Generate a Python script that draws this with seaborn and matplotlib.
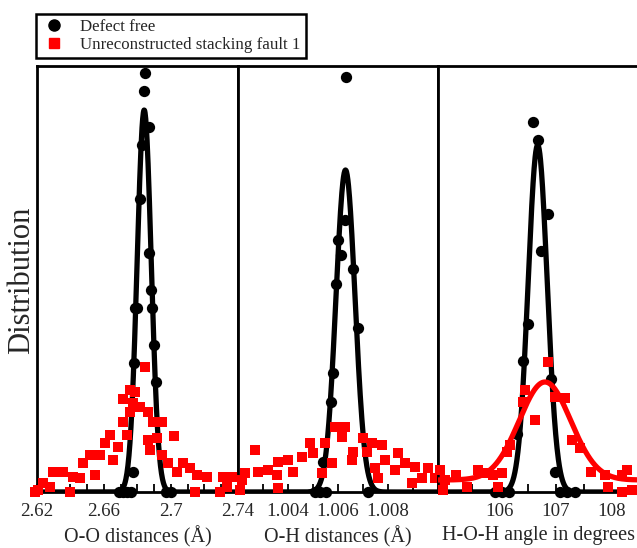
import numpy as np
import pandas as pd
import matplotlib
matplotlib.use("Agg")
import matplotlib.pyplot as plt
from matplotlib.lines import Line2D
from matplotlib.ticker import FixedLocator, MultipleLocator, FixedFormatter
import seaborn as sns

sns.set_style("white")
plt.rcParams["font.family"] = ["Liberation Serif", "DejaVu Serif"]
plt.rcParams["mathtext.fontset"] = "stix"

# ---------------- O-O distances (Angstrom) ----------------
oo_free_x = [2.6845, 2.6837, 2.6870, 2.6825, 2.6815, 2.6869, 2.6879, 2.6783, 2.6800,
             2.6888, 2.6897, 2.6781, 2.6910, 2.6775, 2.6690, 2.6713, 2.6737, 2.6761,
             2.6970, 2.7000]
oo_free_y = [4.19, 4.01, 3.65, 3.47, 2.93, 2.39, 2.02, 1.84, 1.84,
             1.84, 1.47, 1.29, 1.10, 0.20, 0.0, 0.0, 0.0, 0.0,
             0.0, 0.0]
oo_fault_x = [2.6845, 2.6755, 2.6785, 2.6715, 2.6775, 2.6815, 2.6755, 2.6864, 2.6944,
              2.6894, 2.6715, 2.6736, 2.6636, 2.7018, 2.6864, 2.6915, 2.6606, 2.6685,
              2.6576, 2.6516, 2.6875, 2.6944, 2.6476, 2.6656, 2.6984, 2.7073, 2.7113,
              2.7034, 2.7153, 2.7213, 2.7312, 2.7372, 2.6297, 2.6357, 2.6417, 2.6457,
              2.6546, 2.6238, 2.6208, 2.6397, 2.7143, 2.7293, 2.6278, 2.7333, 2.6190]
oo_fault_y = [1.25, 1.02, 1.00, 0.93, 0.89, 0.85, 0.80, 0.80, 0.70,
              0.70, 0.70, 0.57, 0.57, 0.56, 0.52, 0.54, 0.49, 0.45,
              0.37, 0.37, 0.42, 0.37, 0.29, 0.32, 0.29, 0.29, 0.24,
              0.20, 0.17, 0.15, 0.15, 0.15, 0.20, 0.20, 0.15, 0.14,
              0.17, 0.09, 0.02, 0.0, 0.0, 0.0, 0.05, 0.05, 0.0]

# ---------------- O-H distances (Angstrom) ----------------
oh_free_x = [1.00631, 1.00628, 1.00601, 1.00612, 1.00661, 1.00592, 1.00681, 1.00581,
             1.00571, 1.00541, 1.00508, 1.00528, 1.00552, 1.00721]
oh_free_y = [4.15, 2.72, 2.52, 2.37, 2.23, 2.08, 1.64, 1.19,
             0.90, 0.30, 0.0, 0.0, 0.0, 0.0]
oh_fault_x = [1.00588, 1.00628, 1.00615, 1.00701, 1.00268, 1.00488, 1.00548, 1.00735,
              1.00775, 1.00841, 1.00661, 1.00501, 1.00715, 1.00401, 1.00361, 1.00455,
              1.00575, 1.00655, 1.00788, 1.00868, 1.00908, 1.00321, 1.00281, 1.00228,
              1.00355, 1.00421, 1.00535, 1.00748, 1.00761, 1.00828, 1.00961, 1.00988,
              1.00935, 1.00215, 1.00361, 1.00895, 1.01015, 1.00208]
oh_fault_y = [0.65, 0.65, 0.55, 0.54, 0.42, 0.49, 0.49, 0.49,
              0.47, 0.39, 0.40, 0.39, 0.40, 0.32, 0.30, 0.35,
              0.29, 0.32, 0.32, 0.29, 0.25, 0.22, 0.20, 0.19,
              0.17, 0.20, 0.19, 0.24, 0.14, 0.22, 0.24, 0.14,
              0.14, 0.12, 0.04, 0.09, 0.04, 0.02]

# ---------------- H-O-H angle (degrees) ----------------
hoh_free_x = [106.59, 106.68, 106.86, 106.74, 106.51, 106.42, 106.92, 106.31, 106.99,
              105.92, 106.04, 106.17, 107.08, 107.20, 107.35]
hoh_free_y = [3.70, 3.52, 2.78, 2.41, 1.68, 1.31, 1.13, 0.58, 0.20,
              0.0, 0.0, 0.0, 0.0, 0.0, 0.0]
hoh_fault_x = [106.87, 106.45, 106.42, 106.99, 107.17, 106.63, 107.29, 107.44, 106.19,
               106.13, 107.64, 107.88, 108.18, 108.27, 105.62, 105.77, 105.89, 106.04,
               105.23, 105.03, 104.94, 105.41, 104.99, 107.94, 108.18, 108.36, 105.98]
hoh_fault_y = [1.30, 1.02, 0.90, 0.95, 0.94, 0.72, 0.52, 0.44, 0.47,
               0.40, 0.20, 0.17, 0.17, 0.22, 0.22, 0.19, 0.17, 0.19,
               0.17, 0.12, 0.22, 0.05, 0.02, 0.05, 0.0, 0.02, 0.05]

# Gaussian fit parameters: (amplitude, centre, sigma, baseline)
oo_free_fit = (3.82, 2.6840, 0.0042, 0.0)
oh_free_fit = (3.22, 1.00630, 0.00038, 0.0)
hoh_free_fit = (3.47, 106.68, 0.17, 0.0)
hoh_fault_fit = (0.98, 106.81, 0.46, 0.12)

labels = ["Defect free", "Unreconstructed stacking fault 1"]
xlabels = ["O-O distances (Å)", "O-H distances (Å)", "H-O-H angle in degrees"]

W, H = 637, 548
fig = plt.figure(figsize=(W / 100, H / 100), dpi=100)

def px_axes(x0, x1, y0=66, y1=492):
    return fig.add_axes([x0 / W, 1 - y1 / H, (x1 - x0) / W, (y1 - y0) / H])

ax1 = px_axes(37, 238)
ax2 = px_axes(238, 438)
ax3 = px_axes(438, 640)

panels = [
    (ax1, (2.62, 2.74), oo_free_x, oo_free_y, oo_fault_x, oo_fault_y, oo_free_fit, None,
     [2.62, 2.66, 2.70, 2.74], ["2.62", "2.66", "2.7", "2.74"], 0.01),
    (ax2, (1.002, 1.010), oh_free_x, oh_free_y, oh_fault_x, oh_fault_y, oh_free_fit, None,
     [1.004, 1.006, 1.008], ["1.004", "1.006", "1.008"], 0.001),
    (ax3, (104.9, 104.9 + 202 / 56), hoh_free_x, hoh_free_y, hoh_fault_x, hoh_fault_y,
     hoh_free_fit, hoh_fault_fit, [106, 107, 108], ["106", "107", "108"], 0.5),
]

def gauss(x, p):
    a, mu, s, b = p
    return b + a * np.exp(-0.5 * ((x - mu) / s) ** 2)

for ax, xlim, fx, fy, rx, ry, ffit, rfit, ticks, ticklabels, minor, in panels:
    xs = np.linspace(xlim[0], xlim[1], 600)
    sns.lineplot(x=xs, y=gauss(xs, ffit), ax=ax, color="black", lw=3.8,
                 zorder=2, sort=False)
    sns.scatterplot(x=fx, y=fy, ax=ax, color="black", marker="o", s=66,
                    linewidth=0, zorder=3, clip_on=False)
    sns.scatterplot(x=rx, y=ry, ax=ax, color="#ff0000", marker="s", s=60,
                    linewidth=0, zorder=4, clip_on=False)
    if rfit is not None:
        sns.lineplot(x=xs, y=gauss(xs, rfit), ax=ax, color="#ff0000", lw=3.8,
                     zorder=5, sort=False)
    ax.set_xlim(*xlim)
    ax.set_ylim(0, 4.26)
    ax.xaxis.set_major_locator(FixedLocator(ticks))
    ax.xaxis.set_major_formatter(FixedFormatter(ticklabels))
    ax.xaxis.set_minor_locator(MultipleLocator(minor))
    ax.set_yticks([])
    ax.tick_params(axis="x", which="both", direction="in", length=6, width=1.3,
                   color="black", labelsize=13.6, pad=8, top=False, bottom=True)
    for sp in ax.spines.values():
        sp.set_linewidth(2.0)
        sp.set_color("black")
    ax.set_xlabel("")
    ax.set_ylabel("")

for ax, lab in zip([ax1, ax2, ax3], xlabels):
    ax.set_xlabel(lab, fontsize=14.5, labelpad=4)

fig.text(22 / W, 1 - 280 / H, "Distribution", rotation=90, fontsize=22,
         ha="center", va="center")

handles = [
    Line2D([], [], marker="o", color="black", linestyle="none", markersize=8),
    Line2D([], [], marker="s", color="#ff0000", linestyle="none", markersize=7.5),
]
leg = fig.legend(handles, labels, loc="upper left",
                 bbox_to_anchor=(36 / W, 1 - 14 / H), fontsize=12.2, frameon=True,
                 fancybox=False, shadow=False, borderpad=0.3, handlelength=1.5,
                 handletextpad=0.8, labelspacing=0.12, borderaxespad=0.0)
leg.get_frame().set_edgecolor("black")
leg.get_frame().set_linewidth(1.8)
leg.get_frame().set_facecolor("white")
leg.get_frame().set_alpha(1)

fig.savefig("out.png", dpi=100)
